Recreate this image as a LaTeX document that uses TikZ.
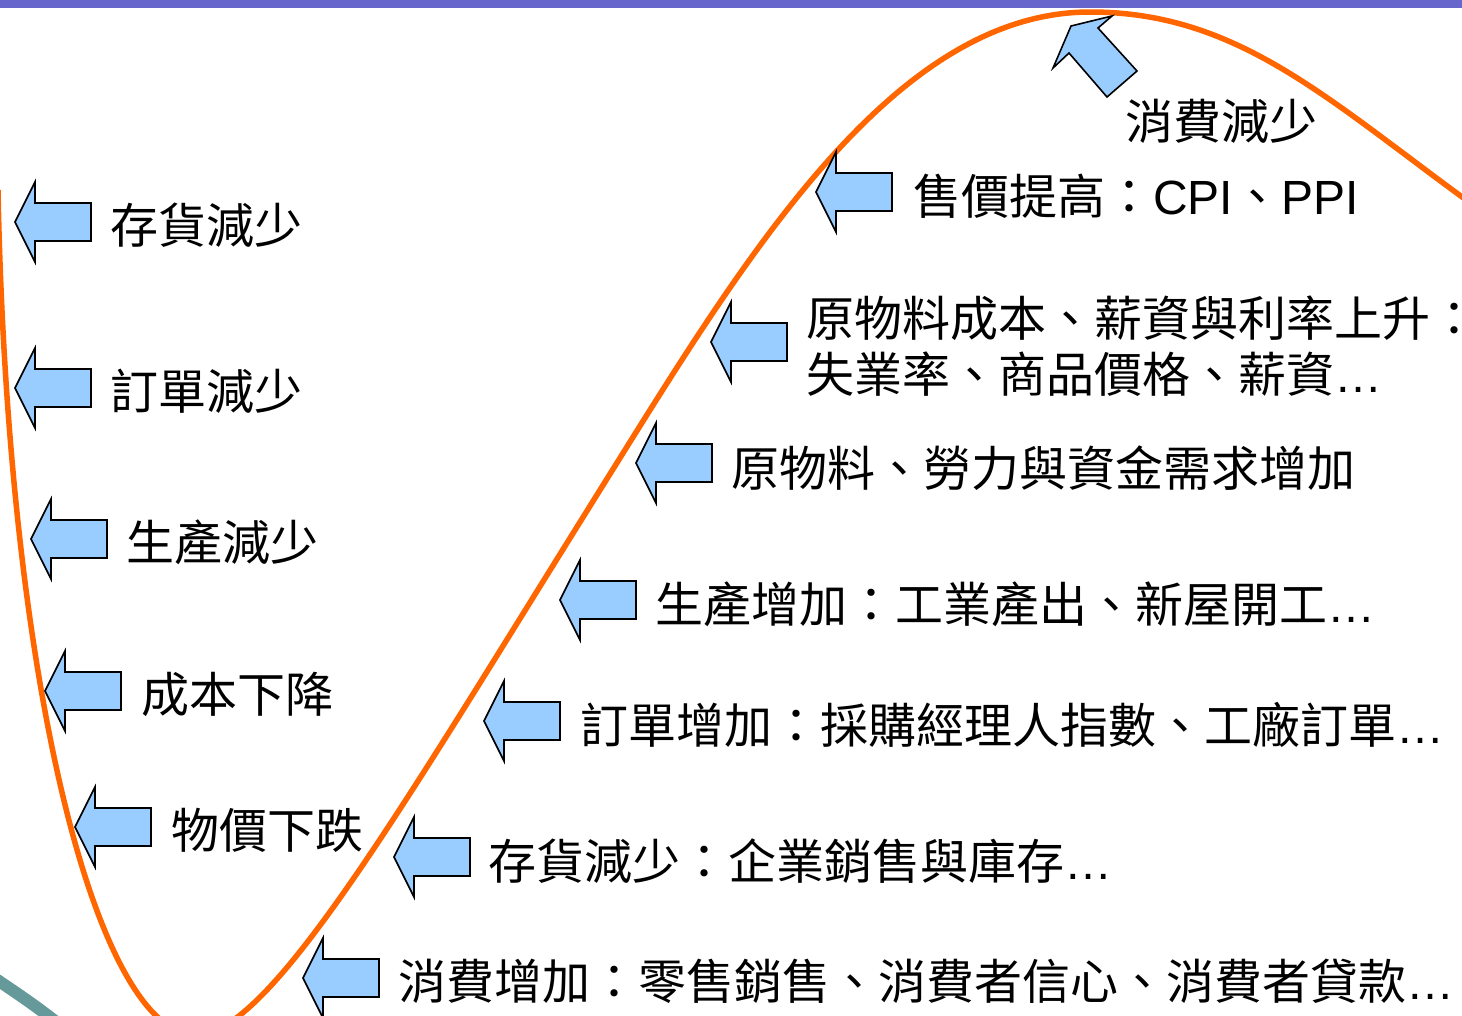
\documentclass[tikz,border=0pt]{standalone}
\usepackage{fontspec}
\newfontfamily\cjk{Noto Sans CJK TC}
\newfontfamily\latin{Liberation Sans}
\definecolor{barblue}{HTML}{6666CC}
\definecolor{curveorange}{HTML}{FF6600}
\definecolor{arrowfill}{HTML}{99CCFF}
\definecolor{tealarc}{HTML}{669999}
\tikzset{
  lbl/.style={anchor=west, inner sep=0pt, align=left, font=\cjk\fontsize{48}{56}\selectfont, text=black},
  blockarrow/.style={fill=arrowfill, draw=black, line width=1.6pt, line join=miter},
  cyclecurve/.style={draw=curveorange, line width=5.5pt},
}
\newcommand\leftblockarrow[2]{%
  \draw[blockarrow] (#1,#2) -- ++(20,-40) -- ++(0,21) -- ++(56,0) -- ++(0,38) -- ++(-56,0) -- ++(0,21) -- cycle;}
\begin{document}
\begin{tikzpicture}[x=1pt,y=-1pt]
\useasboundingbox (0,0) rectangle (1462,1015);
\clip (0,0) rectangle (1462,1015);
\fill[white] (0,0) rectangle (1462,1015);
% teal arc bottom-left
\draw[tealarc, line width=12pt] (-10,975) .. controls (15,992) and (35,1005) .. (60,1025);
% cycle curve
\coordinate (c0) at (-2,190);
\coordinate (c1) at (196,1035);
\coordinate (c2) at (600,490);
\coordinate (c3) at (1090,12);
\coordinate (c4) at (1480,210);
\draw[cyclecurve] (c0) .. controls (8,700) and (100,1035) .. (c1)
  .. controls (270,1035) and (400,810) .. (c2)
  .. controls (740,266) and (890,12) .. (c3)
  .. controls (1240,12) and (1330,102) .. (c4);
% left-side arrows
\leftblockarrow{15}{222}
\leftblockarrow{15}{388}
\leftblockarrow{31}{539}
\leftblockarrow{45}{691}
\leftblockarrow{75}{827}
% right-side arrows
\leftblockarrow{303}{978}
\leftblockarrow{394}{857}
\leftblockarrow{484}{721}
\leftblockarrow{560}{600}
\leftblockarrow{636}{463}
\leftblockarrow{711}{342}
\leftblockarrow{816}{192}
% diagonal arrow at the top
\draw[blockarrow] (1071,26) -- (1112,16) -- (1098,28) -- (1137,71) -- (1107,97) -- (1069,53) -- (1053,68) -- cycle;
% labels
\node[lbl] (t1) at (110,225) {存貨減少};
\node[lbl] (t2) at (110,391) {訂單減少};
\node[lbl] (t3) at (126,542) {生產減少};
\node[lbl] (t4) at (141,694) {成本下降};
\node[lbl] (t5) at (171,830) {物價下跌};
\node[lbl] (r1) at (398,981) {消費增加：零售銷售、消費者信心、消費者貸款{\latin …}};
\node[lbl] (r2) at (488,861) {存貨減少：企業銷售與庫存{\latin …}};
\node[lbl] (r3) at (580,725) {訂單增加：採購經理人指數、工廠訂單{\latin …}};
\node[lbl] (r4) at (655,604) {生產增加：工業產出、新屋開工{\latin …}};
\node[lbl] (r5) at (731,468) {原物料、勞力與資金需求增加};
\node[lbl] (r6) at (806,346) {原物料成本、薪資與利率上升\makebox[30pt][l]{：}\\失業率、商品價格、薪資{\latin …}};
\node[lbl] (r7) at (913,196) {售價提高：{\latin CPI}、{\latin PPI}};
\node[lbl] (r8) at (1125,121) {消費減少};
% top bar
\fill[barblue] (0,0) rectangle (1462,8);
\end{tikzpicture}
\end{document}
